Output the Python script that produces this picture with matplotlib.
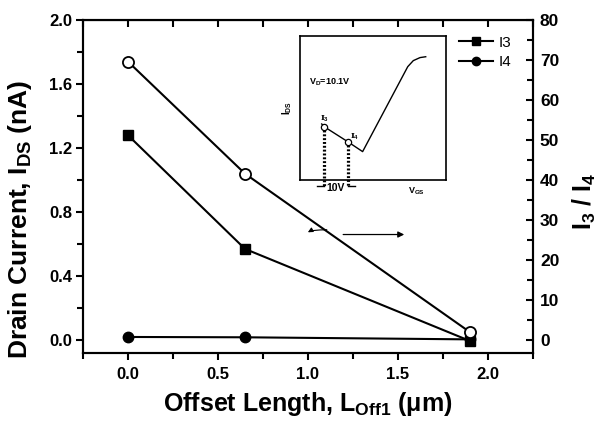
import matplotlib
matplotlib.use("Agg")
import matplotlib.pyplot as plt
from matplotlib.ticker import MultipleLocator

plt.rcParams['font.family'] = ['Liberation Sans', 'DejaVu Sans']
plt.rcParams['mathtext.fontset'] = 'custom'
plt.rcParams['mathtext.rm'] = 'Liberation Sans:bold'
plt.rcParams['mathtext.bf'] = 'Liberation Sans:bold'
plt.rcParams['mathtext.it'] = 'Liberation Sans:bold:italic'

# ---- data ----
offset_length = [0.0, 0.65, 1.9]
i3_current = [1.28, 0.57, -0.005]
i4_current = [0.02, 0.018, 0.005]
ratio_i3_i4 = [69.6, 41.6, 2.0]

# inset schematic (arbitrary units)
inset_vgs = [14.9, 16.6, 32.7, 42.9, 73.8, 77.6, 82.2, 86.1]
inset_ids = [38.9, 37.0, 26.6, 19.7, 78.7, 82.9, 85.0, 85.6]
inset_marks_x = [16.6, 32.7]
inset_marks_y = [37.0, 26.6]

fig = plt.figure(figsize=(6.06, 4.24), dpi=100)
ax = fig.add_axes([0.137, 0.1675, 0.7425, 0.7853])

ax.plot(offset_length, i3_current, '-s', color='black', lw=1.5, ms=7.5,
        label='I3', zorder=3)
ax.plot(offset_length, i4_current, '-o', color='black', lw=1.5, ms=7.5,
        label='I4', zorder=3)

ax.set_xlim(-0.25, 2.25)
ax.set_ylim(-0.08, 2.0)
ax.xaxis.set_major_locator(MultipleLocator(0.5))
ax.xaxis.set_minor_locator(MultipleLocator(0.25))
ax.yaxis.set_major_locator(MultipleLocator(0.4))
ax.yaxis.set_minor_locator(MultipleLocator(0.2))
ax.tick_params(which='both', direction='out', width=1.5, labelsize=12,
               top=False, right=False, pad=3)
ax.tick_params(axis='x', pad=5)
ax.tick_params(which='major', length=5)
ax.tick_params(which='minor', length=4)
for lab in ax.get_xticklabels() + ax.get_yticklabels():
    lab.set_fontweight('bold')
for s in ax.spines.values():
    s.set_linewidth(1.5)

# top ticks (inward)
axt = ax.secondary_xaxis('top')
axt.xaxis.set_major_locator(MultipleLocator(0.5))
axt.xaxis.set_minor_locator(MultipleLocator(0.25))
axt.tick_params(which='both', direction='in', width=1.5, length=5,
                labeltop=False)

ax.set_xlabel('Offset Length, L$_\\mathregular{Off1}$ (\u03bcm)',
              fontsize=18, fontweight='bold', labelpad=6)
ax.set_ylabel('Drain Current, I$_\\mathregular{DS}$ (nA)',
              fontsize=19, fontweight='bold')
ax.yaxis.set_label_coords(-0.108, 0.40)

ax2 = ax.twinx()
ax2.plot(offset_length, ratio_i3_i4, '-o', color='black', lw=1.5, ms=8,
         markerfacecolor='white', markeredgewidth=1.3, zorder=3)
ax2.set_ylim(-3.2, 80)
ax2.yaxis.set_major_locator(MultipleLocator(10))
ax2.yaxis.set_minor_locator(MultipleLocator(5))
ax2.tick_params(which='both', direction='in', width=1.5, labelsize=12.5, pad=5)
ax2.tick_params(which='major', length=5)
ax2.tick_params(which='minor', length=4)
for lab in ax2.get_yticklabels():
    lab.set_fontweight('bold')
ax2.set_ylabel('I$_\\mathregular{3}$ / I$_\\mathregular{4}$', fontsize=18,
               fontweight='bold', rotation=90)
ax2.yaxis.set_label_coords(1.084, 0.456)
for s in ax2.spines.values():
    s.set_linewidth(1.5)

leg = ax.legend(loc='upper right', bbox_to_anchor=(0.975, 0.985), frameon=False,
                fontsize=11, handlelength=2.2, handletextpad=0.35,
                labelspacing=0.35, borderaxespad=0.3, markerscale=0.8)

# arrows indicating axis
ax.annotate('', xy=(1.55, 0.66), xytext=(1.18, 0.66),
            arrowprops=dict(arrowstyle='-|>', color='black', lw=0.9,
                            mutation_scale=9))
ax.annotate('', xy=(0.99, 0.66), xytext=(1.12, 0.69),
            arrowprops=dict(arrowstyle='-|>', color='black', lw=0.8,
                            mutation_scale=7,
                            connectionstyle='angle3,angleA=0,angleB=90'))

# ---- inset ----
axi = fig.add_axes([0.495, 0.5755, 0.241, 0.3396])
axi.set_xlim(0, 100)
axi.set_ylim(0, 100)
axi.set_xticks([])
axi.set_yticks([])
for s in axi.spines.values():
    s.set_linewidth(1.2)
axi.plot(inset_vgs, inset_ids, color='black', lw=1.0, clip_on=False)
axi.plot(inset_marks_x, inset_marks_y, 'o', color='black', ms=4.5,
         markerfacecolor='white', mew=0.9, zorder=4)
for xm, ym in zip(inset_marks_x, inset_marks_y):
    axi.plot([xm, xm], [ym - 2, -5], color='black', lw=2.3, ls=(0, (0.6, 0.6)),
             clip_on=False)
axi.text(14.0, 41.0, 'I$_3$', fontsize=6, family='DejaVu Serif',
         fontweight='bold')
axi.text(34.5, 28.5, 'I$_4$', fontsize=6, family='DejaVu Serif',
         fontweight='bold')
axi.text(6.5, 66.0, 'V$_\\mathregular{D}$=10.1V', fontsize=6.5,
         fontweight='bold')
axi.text(-8.5, 50, 'I$_\\mathregular{DS}$', fontsize=7, fontweight='bold',
         rotation=90, ha='center', va='center')
axi.text(80, -8, 'V$_\\mathregular{GS}$', fontsize=6.5, fontweight='bold',
         ha='center', va='center')
axi.text(24.7, -5.5, '10V', fontsize=7.5, fontweight='bold', ha='center',
         va='center')
axi.plot([12, 16.6], [-4.5, -4.5], color='black', lw=1.0, clip_on=False)
axi.plot([32.7, 37.5], [-4.5, -4.5], color='black', lw=1.0, clip_on=False)

fig.savefig('out.png', dpi=100)
